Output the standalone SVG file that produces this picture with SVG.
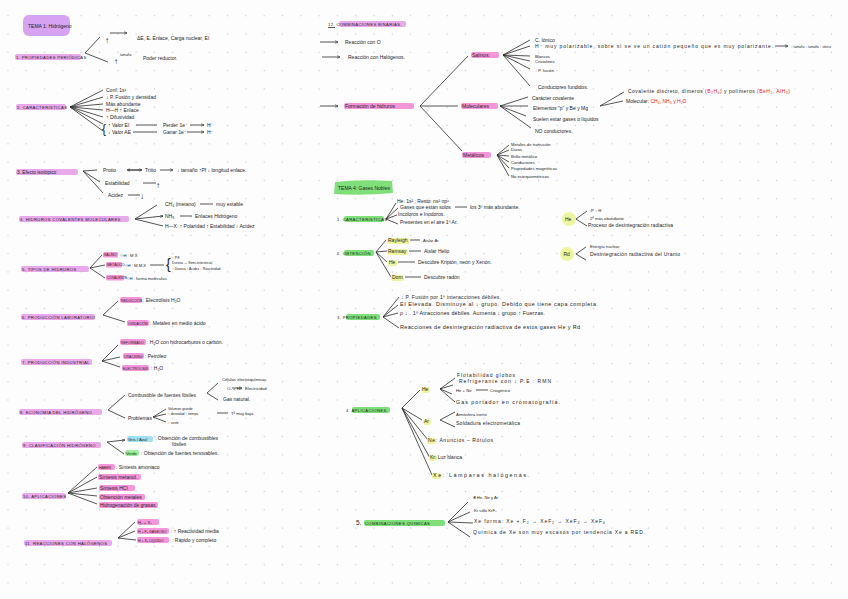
<svg xmlns="http://www.w3.org/2000/svg" width="848" height="599" viewBox="0 0 848 599">
<defs>
<pattern id="dots" x="-1.15" y="6.55" width="18.3" height="18.3" patternUnits="userSpaceOnUse"><circle cx="9.15" cy="9.15" r="0.7" fill="#c9c9c9"/></pattern>
<marker id="ar" viewBox="0 0 6 6" refX="5.5" refY="3" markerWidth="4" markerHeight="4" orient="auto"><path d="M0,0.5 L6,3 L0,5.5" fill="none" stroke="#222" stroke-width="1"/></marker>
<style>
text{font-family:"Liberation Sans","DejaVu Sans",sans-serif;fill:#1e1e1e;font-size:5px}
.h{font-size:4.2px;letter-spacing:0.35px}
.s{font-size:4.2px}
.m{font-size:5.4px}
.xs{font-size:3.4px}
.lb{font-size:3.5px}
.big{font-size:8px}
.red{fill:#e8202a}
.hp{fill:#e59ae8;opacity:0.85}
.pk{fill:#f58bd6;opacity:0.9}
.gr{fill:#7fe07a}
.yl{fill:#eef59f}
.bl{fill:#9fe0f2}
.lg{fill:#9cf09a}
line,path.c{stroke:#2a2a2a;stroke-width:0.8;fill:none}
.a{marker-end:url(#ar)}
</style>
</defs>
<rect width="848" height="599" fill="#fdfdfd"/>
<rect width="848" height="599" fill="url(#dots)"/>

<g id="tema1">
<rect x="23" y="15" width="47" height="21" rx="6" fill="#d8a2f2"/>
<text x="28" y="28">TEMA 1: Hidrógeno</text>
</g>

<g id="connectors">
<line x1="85" y1="53" x2="100" y2="37"/><line x1="85" y1="53" x2="108" y2="62"/>
<line x1="110" y1="33" x2="127" y2="33" class="a"/>
<line x1="70" y1="107" x2="103" y2="90"/><line x1="70" y1="107" x2="103" y2="97"/><line x1="70" y1="107" x2="103" y2="104"/><line x1="70" y1="107" x2="103" y2="110"/><line x1="70" y1="107" x2="103" y2="117"/><line x1="70" y1="107" x2="103" y2="124"/><line x1="70" y1="107" x2="103" y2="131"/>
<line x1="136" y1="125" x2="157" y2="125"/><line x1="190" y1="125" x2="204" y2="125" class="a"/>
<line x1="133" y1="132" x2="157" y2="132"/><line x1="187" y1="132" x2="204" y2="132" class="a"/>
<line x1="83" y1="171" x2="97" y2="170"/><line x1="83" y1="171" x2="100" y2="182"/><line x1="83" y1="171" x2="103" y2="193"/>
<line x1="128" y1="170" x2="142" y2="170" class="a"/><line x1="141" y1="170" x2="127" y2="170" class="a"/>
<line x1="160" y1="170" x2="173" y2="170" class="a"/>
<line x1="143" y1="183" x2="156" y2="183"/><line x1="128" y1="195" x2="140" y2="195"/>
<line x1="135" y1="219" x2="157" y2="205"/><line x1="135" y1="219" x2="163" y2="216" class="a"/><line x1="135" y1="219" x2="163" y2="226"/>
<line x1="200" y1="204" x2="213" y2="204"/><line x1="180" y1="216" x2="192" y2="216"/>
<line x1="90" y1="268" x2="102" y2="255"/><line x1="90" y1="268" x2="105" y2="265"/><line x1="90" y1="268" x2="105" y2="278"/>
<line x1="150" y1="265" x2="164" y2="265"/>
<line x1="103" y1="315" x2="118" y2="301"/><line x1="103" y1="315" x2="125" y2="322"/>
<line x1="102" y1="361" x2="118" y2="345"/><line x1="102" y1="361" x2="120" y2="357"/><line x1="102" y1="361" x2="120" y2="367"/>
<line x1="108" y1="410" x2="125" y2="395"/><line x1="108" y1="410" x2="125" y2="418"/>
<line x1="207" y1="393" x2="218" y2="383"/><line x1="207" y1="393" x2="218" y2="400"/>
<line x1="153" y1="417" x2="166" y2="409"/><line x1="153" y1="417" x2="166" y2="414"/><line x1="153" y1="417" x2="166" y2="422"/>
<line x1="232" y1="388" x2="242" y2="388" class="a"/>
<line x1="217" y1="413" x2="228" y2="413"/>
<line x1="107" y1="442" x2="125" y2="440" class="a"/><line x1="107" y1="442" x2="124" y2="454"/>
<line x1="68" y1="493" x2="97" y2="467"/><line x1="68" y1="493" x2="97" y2="477"/><line x1="68" y1="493" x2="97" y2="488"/><line x1="68" y1="493" x2="97" y2="496"/><line x1="68" y1="493" x2="97" y2="504"/>
<line x1="118" y1="538" x2="135" y2="522"/><line x1="118" y1="538" x2="135" y2="531"/><line x1="118" y1="538" x2="136" y2="540"/>
<line x1="320" y1="42" x2="338" y2="42" class="a"/>
<line x1="322" y1="57" x2="340" y2="57" class="a"/>
<line x1="320" y1="106" x2="338" y2="106" class="a"/>
<line x1="420" y1="106" x2="468" y2="56"/><line x1="420" y1="106" x2="458" y2="106"/><line x1="420" y1="106" x2="462" y2="151"/>
<line x1="503" y1="55" x2="530" y2="40"/><line x1="503" y1="55" x2="530" y2="46"/><line x1="503" y1="55" x2="530" y2="56"/><line x1="503" y1="55" x2="530" y2="61"/><line x1="503" y1="55" x2="530" y2="69"/><line x1="503" y1="55" x2="530" y2="86"/>
<line x1="775" y1="46" x2="788" y2="46" class="a"/>
<line x1="500" y1="106" x2="528" y2="97"/><line x1="500" y1="106" x2="528" y2="106"/><line x1="500" y1="106" x2="526" y2="116"/><line x1="500" y1="106" x2="531" y2="128"/>
<line x1="600" y1="106" x2="624" y2="92"/><line x1="600" y1="106" x2="623" y2="101"/>
<line x1="497" y1="155" x2="509" y2="145"/><line x1="497" y1="155" x2="509" y2="150"/><line x1="497" y1="155" x2="509" y2="156"/><line x1="497" y1="155" x2="509" y2="162"/><line x1="497" y1="155" x2="509" y2="168"/><line x1="497" y1="155" x2="509" y2="176"/>
<line x1="386" y1="219" x2="396" y2="203"/><line x1="386" y1="219" x2="398" y2="208"/><line x1="386" y1="219" x2="397" y2="215"/><line x1="386" y1="219" x2="398" y2="224"/>
<line x1="455" y1="207" x2="467" y2="207"/>
<line x1="376" y1="252" x2="386" y2="240"/><line x1="376" y1="252" x2="387" y2="251"/><line x1="376" y1="252" x2="387" y2="262"/><line x1="376" y1="252" x2="391" y2="277"/>
<line x1="410" y1="240" x2="420" y2="240"/><line x1="409" y1="251" x2="421" y2="251"/><line x1="398" y1="262" x2="415" y2="262"/><line x1="405" y1="277" x2="421" y2="277"/>
<line x1="576" y1="219" x2="587" y2="211"/><line x1="576" y1="219" x2="587" y2="226"/>
<line x1="576" y1="254" x2="586" y2="247"/><line x1="576" y1="254" x2="586" y2="260"/>
<line x1="383" y1="317" x2="399" y2="297"/><line x1="383" y1="317" x2="398" y2="305"/><line x1="383" y1="317" x2="398" y2="313"/><line x1="383" y1="317" x2="399" y2="328"/>
<line x1="402" y1="408" x2="420" y2="390"/><line x1="402" y1="408" x2="422" y2="420"/><line x1="402" y1="408" x2="428" y2="440"/><line x1="402" y1="408" x2="430" y2="458"/><line x1="402" y1="408" x2="432" y2="475"/>
<line x1="440" y1="389" x2="455" y2="378"/><line x1="440" y1="389" x2="453" y2="385"/><line x1="440" y1="389" x2="452" y2="394"/><line x1="440" y1="389" x2="455" y2="402"/>
<line x1="476" y1="390" x2="488" y2="390"/>
<line x1="440" y1="420" x2="455" y2="412"/><line x1="440" y1="420" x2="455" y2="427"/>
<line x1="448" y1="522" x2="468" y2="502"/><line x1="448" y1="522" x2="470" y2="512"/><line x1="448" y1="522" x2="473" y2="523"/><line x1="448" y1="522" x2="470" y2="537"/>
</g>

<g id="n1">
<rect class="hp" x="15" y="54" width="66" height="6" rx="2"/>
<text class="h" x="16" y="59">1. PROPIEDADES PERIÓDICAS</text>
<text class="big" x="105" y="43">↑</text>
<text x="137" y="40">ΔE, E. Enlace, Carga nuclear, EI</text>
<text class="big" x="114" y="64">↑</text>
<text class="xs" x="120" y="56">tamaño</text>
<text x="143" y="60">Poder reductor.</text>
</g>

<g id="n2">
<rect class="hp" x="16" y="104" width="50" height="6" rx="2"/>
<text class="h" x="17" y="109">2. CARACTERÍSTICAS</text>
<text x="106" y="92">Conf. 1s¹</text>
<text x="106" y="99">↓ P. Fusión y densidad</text>
<text x="106" y="106">Más abundante</text>
<text x="106" y="112">H—H ↑ Enlace</text>
<text x="106" y="119">↑ Difusividad</text>
<text x="102" y="133" style="font-size:12px">{</text>
<text x="108" y="127">↑ Valor   EI</text>
<text x="163" y="127">Perder 1e⁻</text>
<text x="207" y="127">H⁺</text>
<text x="108" y="134">↓ Valor   AE</text>
<text x="163" y="134">Ganar 1e⁻</text>
<text x="207" y="134">H⁻</text>
</g>

<g id="n3">
<rect class="hp" x="16" y="169" width="62" height="6" rx="2"/>
<text x="17" y="174" style="font-size:4.8px">3. Efecto isotópico</text>
<text x="103" y="172">Protio</text>
<text x="145" y="172">Tritio</text>
<text x="177" y="172">↓ tamaño ↑Pf ↓ longitud enlace.</text>
<text x="105" y="185">Estabilidad</text>
<text class="big" x="156" y="188">↑</text>
<text x="108" y="197">Acidez</text>
<text class="big" x="140" y="199">↓</text>
</g>

<g id="n4">
<rect class="hp" x="19" y="216" width="110" height="6" rx="2"/>
<text class="h" x="20" y="221">4. HIDRUROS COVALENTES MOLECULARES</text>
<text x="165" y="206">CH₄ (metano)</text>
<text x="216" y="206">muy estable</text>
<text x="165" y="218">NH₃</text>
<text x="195" y="218">Enlaces Hidrógeno</text>
<text x="165" y="228">H—X: ↑ Polaridad  ↑ Estabilidad  ↓ Acidez</text>
</g>

<g id="n5">
<rect class="hp" x="21" y="266" width="68" height="6" rx="2"/>
<text class="h" x="22" y="271">5. TIPOS DE HIDRUROS</text>
<rect class="pk" x="103" y="252" width="15" height="5.5" rx="1.5"/>
<text class="xs" x="104" y="256">SALINO</text>
<text class="s" x="120" y="257">½H : M X</text>
<rect class="pk" x="106" y="262" width="16" height="5.5" rx="1.5"/>
<text class="xs" x="107" y="266">METÁLICO</text>
<text class="s" x="124" y="267">½H : M,M,X</text>
<text x="166" y="269" style="font-size:14px">{</text>
<text class="xs" x="172" y="259">↑ P.F.</text>
<text class="xs" x="172" y="264">Dureza ↔ Semi-intersticial</text>
<text class="xs" x="172" y="270">↑ Dureza   ↑ Acidez   ↓ Reactividad</text>
<rect class="pk" x="106" y="275" width="18" height="5.5" rx="1.5"/>
<text class="xs" x="107" y="279">COVALENTE</text>
<text class="s" x="126" y="280">½H : forma moléculas</text>
</g>

<g id="n6">
<rect class="hp" x="21" y="314" width="74" height="6" rx="2"/>
<text class="h" x="22" y="319">6. PRODUCCIÓN LABORATORIO</text>
<rect class="pk" x="120" y="297" width="22" height="6" rx="2"/>
<text class="lb" x="121" y="301.5">REDUCCIÓN</text>
<text x="143" y="302">: Electrólisis H₂O</text>
<rect class="pk" x="127" y="320" width="22" height="6" rx="2"/>
<text class="lb" x="128" y="324.5">OXIDACIÓN</text>
<text x="150" y="325">: Metales en medio ácido</text>
</g>

<g id="n7">
<rect class="hp" x="21" y="359" width="71" height="6" rx="2"/>
<text class="h" x="22" y="364">7. PRODUCCIÓN INDUSTRIAL</text>
<rect class="pk" x="120" y="339" width="26" height="6" rx="2"/>
<text class="lb" x="121" y="343.5">REFORMADO</text>
<text x="147" y="344">: H₂O con hidrocarburos o carbón.</text>
<rect class="pk" x="123" y="353" width="21" height="6" rx="2"/>
<text class="lb" x="124" y="357.5">CRACKING</text>
<text x="145" y="358">: Petróleo</text>
<rect class="pk" x="122" y="365" width="27" height="6" rx="2"/>
<text class="lb" x="123" y="369.5">ELECTRÓLISIS</text>
<text x="151" y="370">: H₂O</text>
</g>

<g id="n8">
<rect class="hp" x="19" y="409" width="83" height="6" rx="2"/>
<text class="h" x="20" y="414">8. ECONOMÍA DEL HIDRÓGENO</text>
<text x="128" y="397">Combustible de fuentes fósiles</text>
<text class="s" x="222" y="381">Células electroquímicas</text>
<text class="s" x="227" y="390">O₂ + H₂</text>
<text class="s" x="245" y="390">Electricidad</text>
<text x="223" y="401">Gas natural.</text>
<text x="128" y="420">Problemas</text>
<text class="xs" x="168" y="410">Volumen grande</text>
<text class="xs" x="168" y="415">↑ densidad  ↑ tiempo</text>
<text class="s" x="231" y="415">Tª muy baja</text>
<text class="xs" x="168" y="424">↑ coste</text>
</g>

<g id="n9">
<rect class="hp" x="22" y="442" width="79" height="6" rx="2"/>
<text class="h" x="23" y="447">9. CLASIFICACIÓN HIDRÓGENO</text>
<rect class="bl" x="127" y="436" width="26" height="6" rx="2"/>
<text class="s" x="128" y="441">Gris / Azul</text>
<text x="155" y="440">: Obtención de combustibles</text>
<text x="172" y="446">fósiles</text>
<rect class="lg" x="125" y="450" width="14" height="6" rx="2"/>
<text class="s" x="126" y="455">Verde</text>
<text x="141" y="455">: Obtención de fuentes renovables.</text>
</g>

<g id="n10">
<rect class="hp" x="22" y="493" width="44" height="6" rx="2"/>
<text class="h" x="23" y="498">10. APLICACIONES</text>
<rect class="pk" x="98" y="464" width="17" height="6" rx="2"/>
<text class="lb" x="99" y="468.5">HABER</text>
<text x="116" y="469">: Síntesis amoniaco</text>
<rect class="pk" x="98" y="474" width="43" height="6" rx="2"/>
<text x="99" y="479">Síntesis metanol.</text>
<rect class="pk" x="99" y="485" width="36" height="6" rx="2"/>
<text x="100" y="490">Síntesis HCl</text>
<rect class="pk" x="99" y="494" width="46" height="6" rx="2"/>
<text x="100" y="499">Obtención metales</text>
<rect class="pk" x="99" y="502" width="59" height="6" rx="2"/>
<text x="100" y="507">Hidrogenación de grasas.</text>
</g>

<g id="n11">
<rect class="hp" x="24" y="540" width="88" height="6" rx="2"/>
<text class="h" x="25" y="545">11. REACCIONES CON HALÓGENOS</text>
<rect class="pk" x="137" y="519" width="22" height="6" rx="2"/>
<text class="s" x="138" y="524">H₂ + X₂</text>
<rect class="pk" x="137" y="528" width="32" height="6" rx="2"/>
<text class="lb" x="138" y="532.5">H + F₂ GASEOSO</text>
<text x="171" y="533">: ↑ Reactividad media</text>
<rect class="pk" x="137" y="537" width="32" height="6" rx="2"/>
<text class="lb" x="138" y="541.5">H + X₂ LÍQUIDO</text>
<text x="172" y="542">: Rápido y completo</text>
</g>

<g id="n12">
<rect class="hp" x="339" y="21" width="67" height="6" rx="2"/>
<text class="h" x="328" y="26">12. COMBINACIONES BINARIAS.</text>
<line x1="328" y1="27.5" x2="335" y2="27.5"/>
<text x="345" y="44">Reacción con O</text>
<text x="348" y="59">Reacción con Halógenos.</text>
<rect class="pk" x="344" y="103" width="70" height="6" rx="2"/>
<text x="345" y="108">Formación de hidruros</text>
</g>

<g id="salinos">
<rect class="pk" x="471" y="52" width="28" height="6" rx="2"/>
<text x="472" y="57">Salinos:</text>
<text x="535" y="42">C. Iónico</text>
<text x="535" y="48" textLength="238" lengthAdjust="spacing">H⁻ muy polarizable, sobre sí se ve un catión pequeño que es muy polarizante.</text>
<text class="s" x="791" y="48" textLength="40" lengthAdjust="spacingAndGlyphs">↓ tamaño ↓ tamaño ↑ iónico</text>
<text class="s" x="535" y="58">Blancos</text>
<text class="s" x="535" y="63">Cristalinos</text>
<text class="s" x="535" y="72">↑ P. fusión</text>
<text x="538" y="89">Conductores fundidos.</text>
</g>

<g id="moleculares">
<rect class="pk" x="461" y="103" width="37" height="6" rx="2"/>
<text x="462" y="108">Moleculares</text>
<text x="532" y="100">Carácter covalente</text>
<text x="533" y="110">Elementos "p" y Be y Mg</text>
<text x="533" y="121">Suelen estar gases o líquidos</text>
<text x="535" y="133">NO conductores.</text>
<text x="628" y="93" textLength="162" lengthAdjust="spacing">Covalente discreto, dímeros <tspan class="red">(B₂H₆)</tspan> y polímeros <tspan class="red">(BeH₂, AlH₃)</tspan></text>
<text x="626" y="103">Molecular: <tspan class="red">CH₄, NH₃ y H₂O</tspan></text>
</g>

<g id="metalicos">
<rect class="pk" x="462" y="152" width="29" height="6" rx="2"/>
<text x="463" y="157">Metálicos</text>
<text class="s" x="511" y="146">Metales de transición</text>
<text class="s" x="511" y="151">Duros</text>
<text class="s" x="511" y="158">Brillo metálico</text>
<text class="s" x="511" y="164">Conductores</text>
<text class="s" x="511" y="170">Propiedades magnéticas</text>
<text class="s" x="511" y="178">No estequiométricos</text>
</g>

<g id="tema4">
<path d="M335,182 Q360,179 392,181 L393,193 Q362,196 334,194 Z" class="gr"/>
<text x="338" y="189.5">TEMA 4: Gases Nobles</text>
</g>

<g id="g1">
<rect class="gr" x="344" y="216" width="40" height="6" rx="2"/>
<text class="h" x="337" y="221">1. CARACTERÍSTICAS</text>
<text x="397" y="203">He: 1s² ; Resto: ns² np⁶</text>
<text x="400" y="209">Gases que están solos</text>
<text x="470" y="209">los 3º más abundante.</text>
<text x="398" y="216">Incoloros e Inodoros.</text>
<text x="400" y="224">Presentes en el aire 1º Ar.</text>
</g>

<g id="g2">
<rect class="gr" x="344" y="250" width="30" height="6" rx="2"/>
<text class="h" x="337" y="255">2. OBTENCIÓN</text>
<rect class="yl" x="387" y="238" width="22" height="6" rx="2"/>
<text x="388" y="242">Rayleigh</text>
<text class="s" x="423" y="242">Aislar Ar</text>
<rect class="yl" x="387" y="249" width="21" height="6" rx="2"/>
<text x="388" y="253">Ramsay</text>
<text x="424" y="253">Aislar Helio</text>
<rect class="yl" x="388" y="260" width="9" height="6" rx="2"/>
<text x="389" y="264">He</text>
<text x="418" y="264">Descubre Kriptón, neón y Xenón.</text>
<rect class="yl" x="391" y="275" width="13" height="6" rx="2"/>
<text x="392" y="279">Dorn</text>
<text x="424" y="279">Descubre radón</text>
</g>

<g id="he">
<circle class="yl" cx="569" cy="219" r="7"/>
<text x="565" y="221">He</text>
<text class="s" x="589" y="212">↑P ↓ H</text>
<text class="s" x="590" y="220">2º más abundante</text>
<text x="588" y="227" textLength="85" lengthAdjust="spacing">Proceso de desintegración radiactiva</text>
</g>

<g id="rd">
<circle class="yl" cx="567" cy="254" r="7"/>
<text x="563.5" y="256">Rd</text>
<text class="s" x="590" y="248">Energía nuclear</text>
<text x="590" y="256" textLength="90" lengthAdjust="spacing">Desintegración radiactiva del Uranio</text>
</g>

<g id="g3">
<rect class="gr" x="346" y="314" width="34" height="6" rx="2"/>
<text class="h" x="337" y="319">3. PROPIEDADES</text>
<text x="401" y="299" textLength="100" lengthAdjust="spacing">↓ P. Fusión por 1º interacciones débiles.</text>
<text class="m" x="400" y="306" textLength="198" lengthAdjust="spacing">EI Elevada. Disminuye al ↓ grupo. Debido que tiene capa completa.</text>
<text class="m" x="400" y="315" textLength="145" lengthAdjust="spacing">ρ ↓ . 1º Atracciones débiles. Aumenta ↓ grupo ↑ Fuerzas.</text>
<text class="m" x="400" y="329" textLength="180" lengthAdjust="spacing">Reacciones de desintegración radiactiva de estos gases  He y Rd</text>
</g>

<g id="g4">
<rect class="gr" x="352" y="407" width="38" height="6" rx="2"/>
<text class="h" x="346" y="412">4. APLICACIONES</text>
<rect class="yl" x="421" y="387" width="9" height="6" rx="2"/>
<text x="422" y="391">He</text>
<text x="457" y="377" textLength="58" lengthAdjust="spacing">Flotabilidad globos</text>
<text x="459" y="383" textLength="92" lengthAdjust="spacing">Refrigerante con ↓ P.E : RMN</text>
<text class="s" x="456" y="392">He + Ne</text>
<text class="s" x="490" y="392">Criogénico</text>
<text class="m" x="456" y="404" textLength="104" lengthAdjust="spacing">Gas portador en cromatografía.</text>
<rect class="yl" x="423" y="419" width="8" height="6" rx="2"/>
<text x="424" y="423">Ar</text>
<text class="s" x="456" y="416">Atmósfera inerte</text>
<text x="456" y="425" textLength="64" lengthAdjust="spacing">Soldadura electrometálica</text>
<rect class="yl" x="427" y="438" width="9" height="6" rx="2"/>
<text x="428" y="442" textLength="65" lengthAdjust="spacing">Ne: Anuncios – Rótulos</text>
<rect class="yl" x="429" y="455" width="8" height="6" rx="2"/>
<text x="430" y="459">Kr: Luz blanca.</text>
<rect class="yl" x="432" y="473" width="9" height="6" rx="2"/>
<text class="m" x="433" y="477" textLength="96" lengthAdjust="spacing">Xe: Lámparas halógenas.</text>
</g>

<g id="g5">
<text x="356" y="525" style="font-size:6.5px">5.</text>
<rect class="gr" x="364" y="520" width="81" height="6" rx="2"/>
<text class="h" x="365" y="525">COMBINACIONES QUÍMICAS</text>
<text class="s" x="473" y="499">∄ He, Ne y Ar</text>
<text class="s" x="474" y="512">Kr sólo   KrF₂</text>
<text x="474" y="523" textLength="131" lengthAdjust="spacing">Xe forma: Xe + F₂  →  XeF₂  →  XeF₄  →  XeF₆</text>
<text x="473" y="534" textLength="172" lengthAdjust="spacing">Química de Xe son muy escasos por tendencia Xe a RED.</text>
</g>
</svg>
